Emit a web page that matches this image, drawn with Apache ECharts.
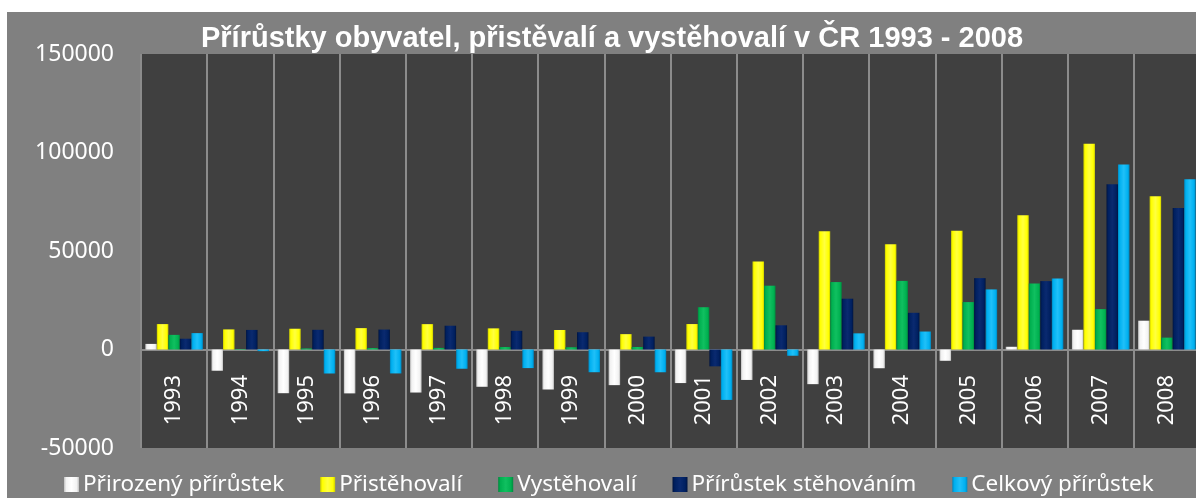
<!DOCTYPE html>
<html>
<head>
<meta charset="utf-8">
<script src="https://cdn.jsdelivr.net/npm/echarts@6/dist/echarts.min.js"></script>
<style>
  html, body {
    margin: 0;
    padding: 0;
    background: #ffffff;
    width: 1196px;
    height: 498px;
    overflow: hidden;
  }
  #chart {
    position: absolute;
    left: 7px;
    top: 12px;
    width: 1196px;
    height: 486px;
    background: #808080;
  }
</style>
</head>
<body>
<div id="chart"></div>
<script>
// roky
const years = ['1993', '1994', '1995', '1996', '1997', '1998', '1999', '2000',
  '2001', '2002', '2003', '2004', '2005', '2006', '2007', '2008'];
// Přirozený přírůstek
const natural = [2840, -10780, -22182, -22275, -21845, -18922, -20308, -18091,
  -17037, -15457, -17590, -9513, -5727, 1383, 10021, 14622];
// Přistěhovalí
const immigrants = [12900, 10207, 10540, 10857, 12880, 10729, 9910, 7802,
  12918, 44679, 60015, 53453, 60294, 68183, 104445, 77817];
// Vystěhovalí
const emigrants = [7424, 265, 541, 728, 805, 1241, 1136, 1263,
  21469, 32389, 34226, 34818, 24065, 33463, 20500, 6027];
// Přírůstek stěhováním
const netMigration = [5476, 9942, 9999, 10129, 12075, 9488, 8774, 6539,
  -8551, 12290, 25789, 18635, 36229, 34720, 83945, 71790];
// Celkový přírůstek
const total = [8316, -838, -12183, -12146, -9770, -9434, -11534, -11552,
  -25588, -3167, 8199, 9122, 30502, 36103, 93966, 86412];

const yTicks = [-50000, 0, 50000, 100000, 150000];

// jednoduchý "bevel" efekt sloupců
function bevel(light, mid, dark) {
  return new echarts.graphic.LinearGradient(0, 0, 1, 0, [
    { offset: 0, color: dark },
    { offset: 0.15, color: mid },
    { offset: 0.5, color: light },
    { offset: 0.85, color: mid },
    { offset: 1, color: dark }
  ]);
}

const seriesDefs = [
  { name: 'Přirozený přírůstek', data: natural, c: ['#ffffff', '#f2f2f2', '#bfbfbf'] },
  { name: 'Přistěhovalí', data: immigrants, c: ['#ffff40', '#ffff00', '#cccc00'] },
  { name: 'Vystěhovalí', data: emigrants, c: ['#10c060', '#00b050', '#008a3e'] },
  { name: 'Přírůstek stěhováním', data: netMigration, c: ['#0a2a70', '#002060', '#001440'] },
  { name: 'Celkový přírůstek', data: total, c: ['#20c0f8', '#00b0f0', '#0088c0'] }
];

const myChart = echarts.init(document.getElementById('chart'));

const option = {
  animation: false,
  title: {
    text: 'Přírůstky obyvatel, přistěvalí a vystěhovalí v ČR 1993 - 2008',
    left: 600,
    top: 7,
    textAlign: 'center',
    textStyle: {
      color: '#ffffff',
      fontFamily: 'Liberation Sans',
      fontWeight: 'bold',
      fontSize: 29
    }
  },
  legend: {
    bottom: -3,
    left: 52,
    itemWidth: 15,
    itemHeight: 15,
    itemGap: 36,
    icon: 'rect',
    textStyle: {
      color: '#ffffff',
      fontFamily: 'Noto Sans',
      fontSize: 22.5,
      padding: [0, 0, 0, -1]
    },
    data: seriesDefs.map(s => s.name)
  },
  grid: {
    left: 134,
    right: 3,
    top: 42,
    bottom: 50,
    outerBoundsMode: 'none',
    containLabel: false,
    backgroundColor: '#404040',
    show: true,
    borderWidth: 0
  },
  xAxis: {
    type: 'category',
    data: years,
    axisLine: { onZero: true, lineStyle: { color: '#8c8c8c', width: 2 } },
    axisTick: { show: false },
    axisLabel: {
      rotate: 90,
      margin: -73,
      color: '#ffffff',
      fontFamily: 'Noto Sans',
      fontSize: 22
    },
    splitLine: { show: true, lineStyle: { color: '#8c8c8c', width: 2 } }
  },
  yAxis: {
    type: 'value',
    min: yTicks[0],
    max: yTicks[yTicks.length - 1],
    interval: 50000,
    axisLine: { show: false },
    axisTick: { show: false },
    splitLine: { show: false },
    axisLabel: {
      margin: 27,
      color: '#ffffff',
      fontFamily: 'Noto Sans',
      fontSize: 23,
      formatter: v => String(v)
    }
  },
  series: seriesDefs.map(s => ({
    name: s.name,
    type: 'bar',
    data: s.data,
    barGap: '0%',
    barCategoryGap: '13%',
    itemStyle: {
      color: bevel(s.c[0], s.c[1], s.c[2])
    },
    emphasis: { disabled: true }
  }))
};

myChart.setOption(option);
</script>
</body>
</html>
